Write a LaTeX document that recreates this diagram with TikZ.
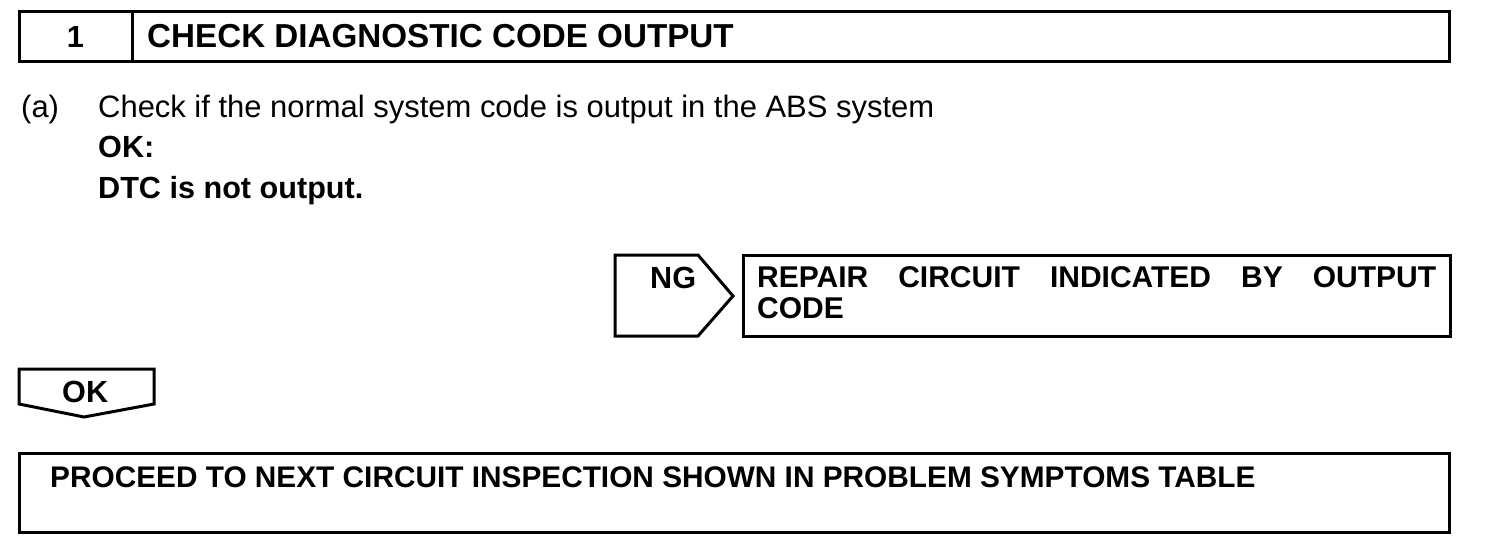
\documentclass[tikz,border=0pt]{standalone}
\usepackage{fontspec}
\setmainfont{Liberation Sans}
\begin{document}
\begin{tikzpicture}[x=1pt,y=-1pt,
  frame/.style={draw=black,line width=3pt,line join=miter},
  bt/.style={anchor=base west,inner sep=0pt,font=\bfseries\fontsize{30.6}{30.6}\selectfont},
  rt/.style={anchor=base west,inner sep=0pt,font=\fontsize{30.95}{30.95}\selectfont}]
\useasboundingbox (0,0) rectangle (1504,550);
% header
\draw[frame] (19,11) rectangle (1449,61);
\draw[frame] (132,11) -- (132,61);
\node[anchor=base,inner sep=0pt,font=\bfseries\fontsize{30.6}{30.6}\selectfont] (num) at (75.5,47) {1};
\node[bt,font=\bfseries\fontsize{33.2}{33.2}\selectfont] (title) at (147,47) {CHECK DIAGNOSTIC CODE OUTPUT};
% text
\node[rt] (a) at (21,117) {(a)};
\node[rt] (check) at (98,117) {Check if the normal system code is output in the ABS system};
\node[bt] (ok1) at (98,157) {OK:};
\node[bt] (dtc) at (98,198) {DTC is not output.};
% NG arrow
\draw[frame] (615,255) -- (698,255) -- (733,296) -- (698,336) -- (615,336) -- cycle;
\node[bt] (ng) at (650,288) {NG};
% repair box
\draw[frame] (743,255) rectangle (1450,336);
\node[anchor=north west,inner sep=0pt,font=\bfseries\fontsize{30}{31.5}\selectfont,text width=679pt,align=justify] (repair) at (757,266) {REPAIR CIRCUIT INDICATED BY OUTPUT\linebreak CODE};
% OK arrow
\draw[frame] (19,369) -- (154,369) -- (154,404) -- (84,417) -- (19,404) -- cycle;
\node[bt] (ok2) at (62,402) {OK};
% bottom box
\draw[frame] (19,453) rectangle (1449,532);
\node[bt,font=\bfseries\fontsize{29.8}{29.8}\selectfont] (proceed) at (50,487) {PROCEED TO NEXT CIRCUIT INSPECTION SHOWN IN PROBLEM SYMPTOMS TABLE};
\end{tikzpicture}
\end{document}
